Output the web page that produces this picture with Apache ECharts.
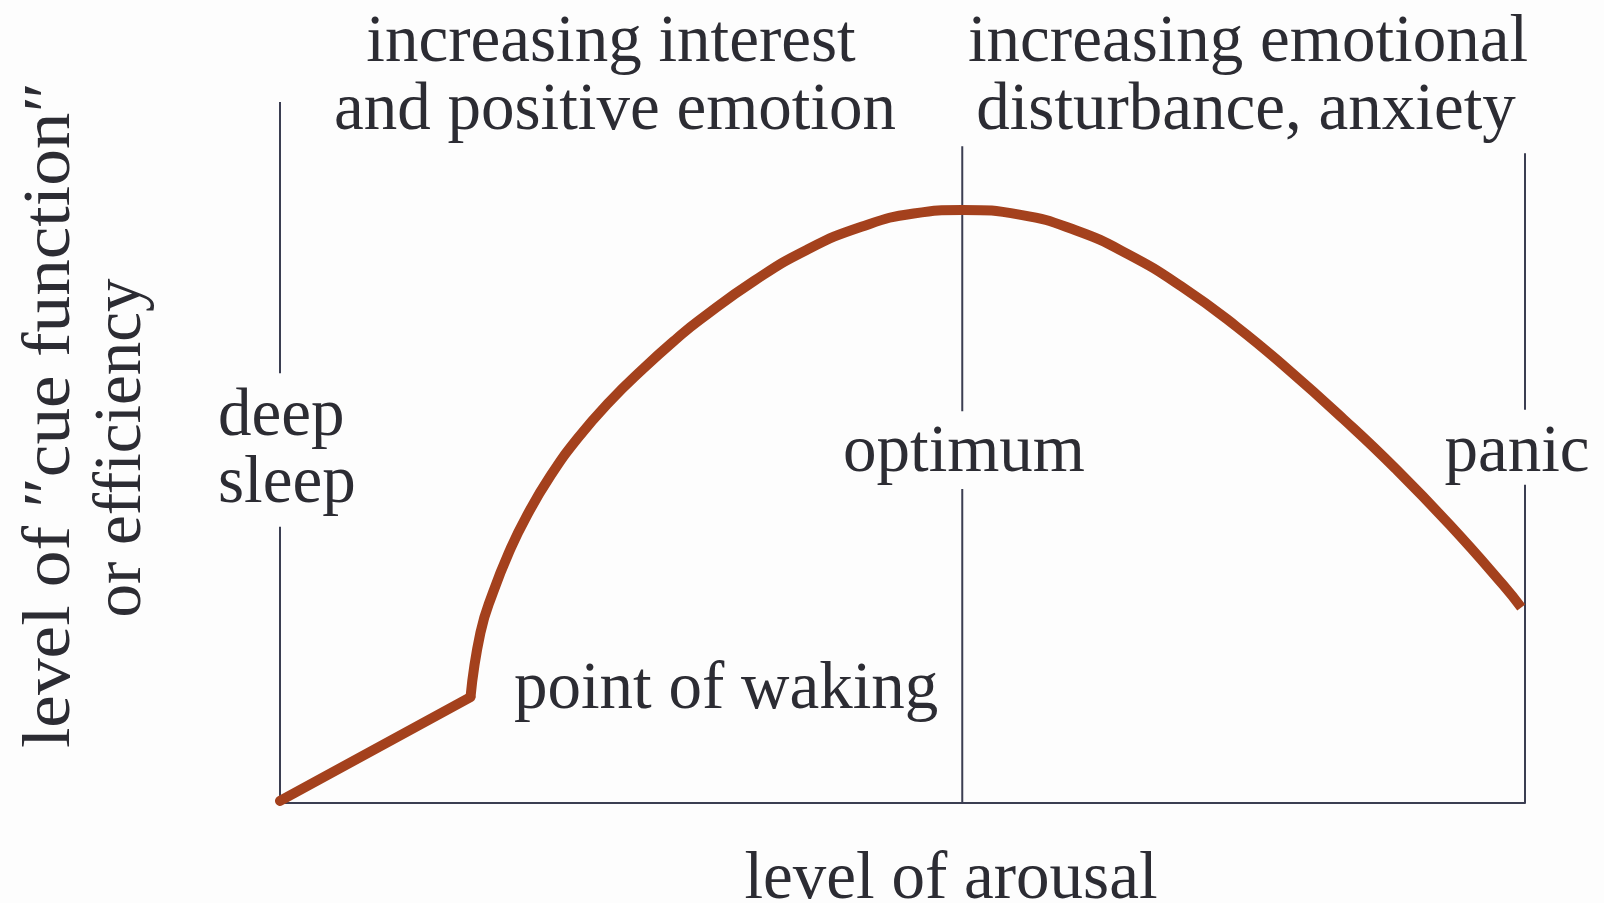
<!DOCTYPE html>
<html><head><meta charset="utf-8">
<script src="https://cdn.jsdelivr.net/npm/echarts@6/dist/echarts.min.js"></script>
<style>html,body{margin:0;padding:0;background:#fdfdfd}#c{width:1604px;height:903px}</style>
</head><body><div id="c"></div><script>
// Curve: level of arousal (x) vs level of cue function / efficiency (y), arbitrary 0-100 units
const wakingX = [0, 15.3];
const wakingY = [0.3, 15.1];
const arousalX = [15.3, 16.1, 17.1, 18.5, 19.8, 21.7, 23.9, 26.5, 29.2, 31.9, 33.7, 38.1, 42.3, 46.7, 50.9, 54.8, 59.5, 63.9, 68.1, 72.4, 76.8, 81.0, 85.4, 89.6, 94.0, 98.2, 99.7];
const arousalY = [15.1, 24.3, 30.0, 36.2, 40.9, 46.6, 52.0, 57.3, 62.0, 66.3, 68.9, 74.5, 78.9, 82.2, 84.1, 84.6, 83.9, 81.7, 78.3, 73.7, 68.0, 61.8, 54.8, 47.7, 39.6, 31.2, 27.9];
// Guide lines: x position, lower segment top, upper segment bottom, top
const guideX = [0, 54.8, 100];
const guideGapLow = [39.4, 44.8, 45.4];
const guideGapHigh = [61.3, 55.9, 56.1];
const guideTop = [100, 93.7, 92.7];

const topLeftLines = ['increasing interest', 'and positive emotion'];
const topRightLines = ['increasing emotional', 'disturbance, anxiety'];
const deepSleepLines = ['deep', 'sleep'];
const optimumLabel = 'optimum';
const panicLabel = 'panic';
const wakingLabel = 'point of waking';
const xAxisTitle = 'level of arousal';
const yAxisTitle = ['level of \u2033cue function\u2033', 'or efficiency'];

const FAM = 'Liberation Serif';
const FS = 67;
const TXT = '#2c2c33';
const LINE = '#3b3e52';
const CURVE = '#a4411d';

const chart = echarts.init(document.getElementById('c'));
function pairs(xs, ys) { return xs.map((x, i) => [x, ys[i]]); }
const guideSeries = guideX.map((x, i) => ({
  type: 'line', silent: true, symbol: 'none', z: 1,
  lineStyle: { color: LINE, width: 2 },
  data: [[x, 0], [x, guideGapLow[i]], [x, '-'], [x, guideGapHigh[i]], [x, guideTop[i]]]
}));
function txt(text, x, y, align, rot, sx) {
  return { type: 'text', x: x, y: y, z: 10, rotation: rot || 0, scaleX: sx || 1,
    style: { text: text, fill: TXT, fontFamily: FAM, fontSize: FS, align: align || 'center', verticalAlign: 'middle' } };
}
chart.setOption({
  backgroundColor: '#fdfdfd',
  animation: false,
  grid: { left: 280, right: 79, top: 102, bottom: 100, outerBoundsMode: 'none', containLabel: false },
  xAxis: {
    type: 'value', min: 0, max: 100,
    axisLine: { show: true, lineStyle: { color: LINE, width: 2 } },
    axisTick: { show: false }, axisLabel: { show: false }, splitLine: { show: false }
  },
  yAxis: {
    type: 'value', min: 0, max: 100,
    axisLine: { show: false }, axisTick: { show: false }, axisLabel: { show: false }, splitLine: { show: false }
  },
  series: guideSeries.concat([
    { type: 'line', symbol: 'none', z: 5, data: pairs(wakingX, wakingY),
      lineStyle: { color: CURVE, width: 10, cap: 'round', join: 'round' } },
    { type: 'line', symbol: 'none', z: 5, smooth: 0.5, data: pairs(arousalX, arousalY),
      lineStyle: { color: CURVE, width: 10, cap: 'butt', join: 'round' } }
  ]),
  graphic: [
    txt(topLeftLines[0], 611, 43),
    txt(topLeftLines[1], 615, 111),
    txt(topRightLines[0], 1248, 43),
    txt(topRightLines[1], 1246, 111),
    txt(deepSleepLines[0], 218, 417, 'left'),
    txt(deepSleepLines[1], 218, 484, 'left'),
    txt(optimumLabel, 964, 453),
    txt(panicLabel, 1517, 453),
    txt(wakingLabel, 514, 690, 'left'),
    txt(xAxisTitle, 951, 880),
    txt(yAxisTitle[0], 51, 415, 'center', Math.PI / 2, 1.095),
    txt(yAxisTitle[1], 122, 448, 'center', Math.PI / 2, 1.0)
  ]
});
</script></body></html>
